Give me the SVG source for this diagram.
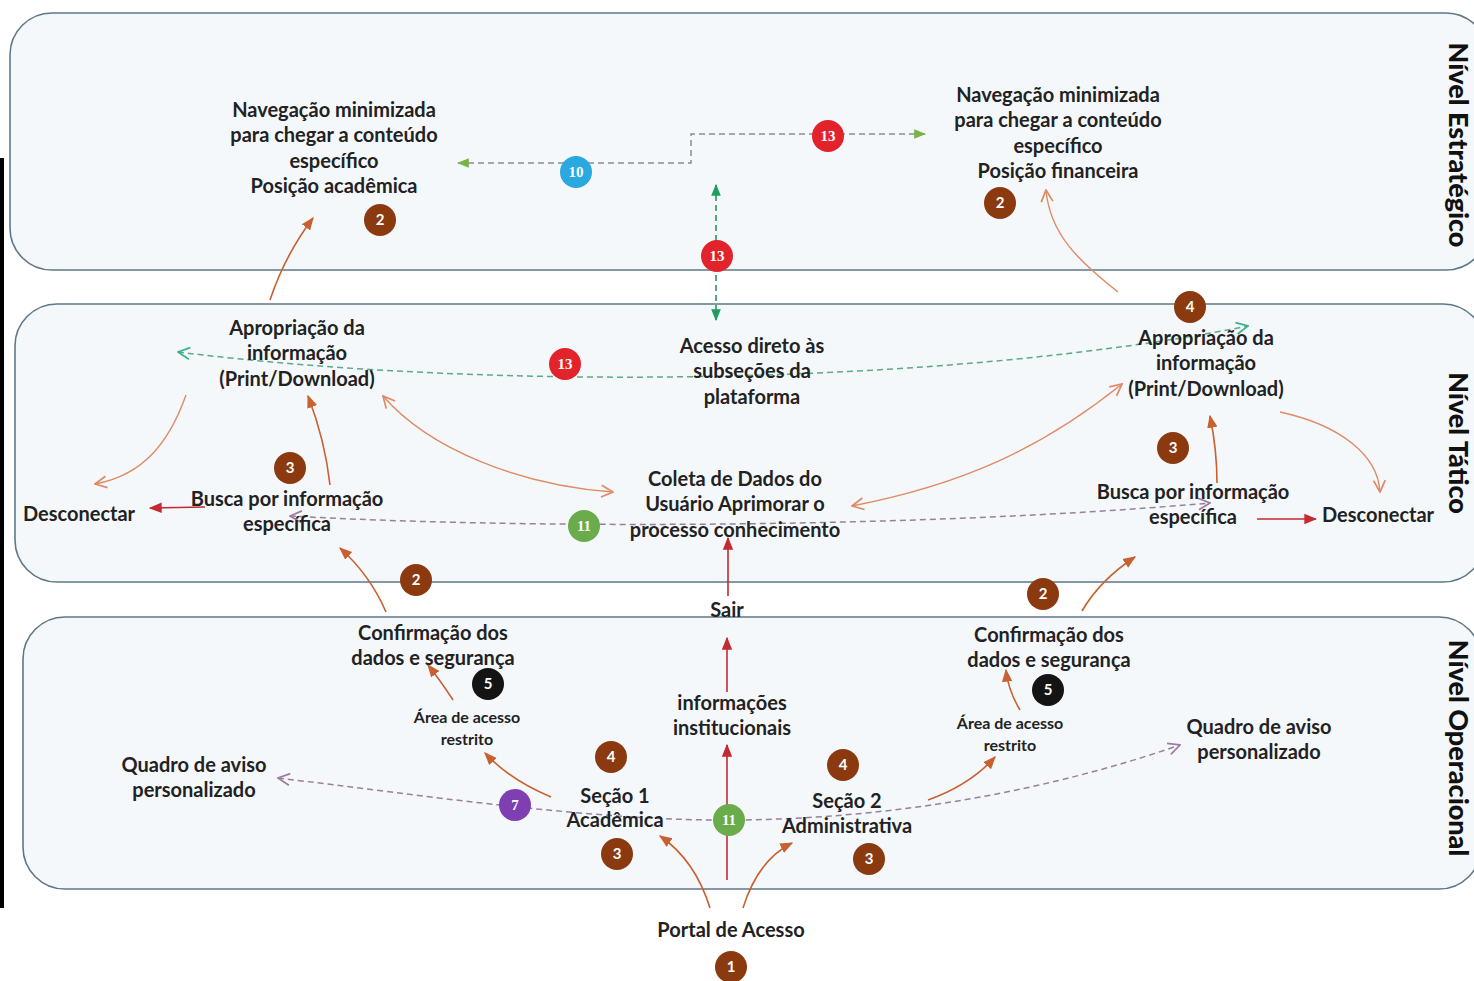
<svg xmlns="http://www.w3.org/2000/svg" width="1474" height="981" viewBox="0 0 1474 981">
  <style>
    .panel { fill: #f5f8fb; stroke: #5f7888; stroke-width: 1.6; }
    .t { font-family: Lato, "Liberation Sans", sans-serif; font-weight: 700; font-size: 20px; fill: #222; text-anchor: middle; }
    .ts { font-size: 16px; }
    .side { font-family: Lato, "Liberation Sans", sans-serif; font-weight: 900; font-size: 27px; fill: #111; text-anchor: middle; }
    .b circle { stroke: none; }
    .bn { font-family: Lato, "Liberation Sans", sans-serif; font-weight: 700; font-size: 15px; fill: #fff; text-anchor: middle; }
    .bs { font-family: "Liberation Serif", serif; font-weight: 700; font-size: 15px; fill: #fff; text-anchor: middle; }
    .brown { fill: #8b3a10; }
    .black { fill: #141414; }
    .red { fill: #e3232b; }
    .blue { fill: #2aa8df; }
    .green { fill: #6aac4c; }
    .purple { fill: #7d3fb2; }
    .solid { fill: none; stroke: #c8602f; stroke-width: 1.6; marker-end: url(#mFill); }
    .thin { fill: none; stroke: #e08a66; stroke-width: 1.4; }
    .redl { fill: none; stroke: #c42a32; stroke-width: 1.6; marker-end: url(#mRed); }
    .grayd { fill: none; stroke: #8c8c8c; stroke-width: 1.5; stroke-dasharray: 6 4; }
    .vgreen { fill: none; stroke: #1e8f55; stroke-width: 1.5; stroke-dasharray: 6 4; }
    .teal { fill: none; stroke: #5aaa86; stroke-width: 1.5; stroke-dasharray: 6 4; }
    .mauve { fill: none; stroke: #9a7f9a; stroke-width: 1.5; stroke-dasharray: 6 4; }
  </style>
  <defs>
    <marker id="mFill" viewBox="0 0 10 10" refX="9" refY="5" markerWidth="13" markerHeight="13" markerUnits="userSpaceOnUse" orient="auto-start-reverse">
      <path d="M0,1 L10,5 L0,9 z" fill="#c8602f"/>
    </marker>
    <marker id="mRed" viewBox="0 0 10 10" refX="9" refY="5" markerWidth="13" markerHeight="13" markerUnits="userSpaceOnUse" orient="auto-start-reverse">
      <path d="M0,1 L10,5 L0,9 z" fill="#c42a32"/>
    </marker>
    <marker id="mOpen" viewBox="0 0 12 12" refX="11" refY="6" markerWidth="14" markerHeight="14" markerUnits="userSpaceOnUse" orient="auto-start-reverse">
      <path d="M1,1 L11,6 L1,11" fill="none" stroke="#e08a66" stroke-width="1.5"/>
    </marker>
    <marker id="mGreen" viewBox="0 0 10 10" refX="9" refY="5" markerWidth="12" markerHeight="12" markerUnits="userSpaceOnUse" orient="auto-start-reverse">
      <path d="M0,1 L10,5 L0,9 z" fill="#78b446"/>
    </marker>
    <marker id="mDGreen" viewBox="0 0 10 10" refX="9" refY="5" markerWidth="12" markerHeight="12" markerUnits="userSpaceOnUse" orient="auto-start-reverse">
      <path d="M0,1 L10,5 L0,9 z" fill="#1e9e5a"/>
    </marker>
    <marker id="mTeal" viewBox="0 0 12 12" refX="11" refY="6" markerWidth="14" markerHeight="14" markerUnits="userSpaceOnUse" orient="auto-start-reverse">
      <path d="M1,1 L11,6 L1,11" fill="none" stroke="#3fb08a" stroke-width="1.5"/>
    </marker>
    <marker id="mMauve" viewBox="0 0 12 12" refX="11" refY="6" markerWidth="14" markerHeight="14" markerUnits="userSpaceOnUse" orient="auto-start-reverse">
      <path d="M1,1 L11,6 L1,11" fill="none" stroke="#a07ca0" stroke-width="1.5"/>
    </marker>
  </defs>

  <rect width="1474" height="981" fill="#ffffff"/>
  <rect x="0" y="158" width="4" height="750" fill="#000"/>

  <!-- level bands -->
  <g id="band-estrategico">
    <rect class="panel" x="10" y="13" width="1478" height="257" rx="42"/>
    <text class="side" transform="translate(1449,145) rotate(90)">Nível Estratégico</text>
  </g>
  <g id="band-tatico">
    <rect class="panel" x="15" y="304" width="1470" height="278" rx="42"/>
    <text class="side" transform="translate(1449,443) rotate(90)">Nível Tático</text>
  </g>
  <g id="band-operacional">
    <rect class="panel" x="23" y="617" width="1458" height="272" rx="42"/>
    <text class="side" transform="translate(1449,748) rotate(90)">Nível Operacional</text>
  </g>

  <!-- connectors -->
  <g id="connectors">
    <path class="grayd" d="M458,163 L691,163 L691,134 L925,134" marker-start="url(#mGreen)" marker-end="url(#mGreen)"/>
    <path class="vgreen" d="M716,185 L716,320" marker-start="url(#mDGreen)" marker-end="url(#mDGreen)"/>
    <path class="solid" d="M270,300 Q285,255 313,218"/>
    <path class="thin" d="M1118,292 C1080,262 1050,235 1046,190" marker-end="url(#mOpen)"/>

    <path class="teal" d="M178,352 C500,392 950,385 1248,326" marker-start="url(#mTeal)" marker-end="url(#mTeal)"/>
    <path class="mauve" d="M290,516 C500,528 900,530 1210,503" marker-start="url(#mMauve)" marker-end="url(#mMauve)"/>
    <path class="thin" d="M186,395 C170,440 145,475 95,484" marker-end="url(#mOpen)"/>
    <path class="redl" d="M205,507 L150,508"/>
    <path class="solid" d="M330,485 Q325,440 308,396"/>
    <path class="thin" d="M383,396 C430,450 520,485 613,492" marker-start="url(#mOpen)" marker-end="url(#mOpen)"/>
    <path class="thin" d="M852,506 C960,485 1040,450 1122,384" marker-start="url(#mOpen)" marker-end="url(#mOpen)"/>
    <path class="solid" d="M1217,483 Q1217,450 1210,416"/>
    <path class="redl" d="M1257,519 L1316,519"/>
    <path class="thin" d="M1280,412 C1340,425 1378,455 1380,492" marker-end="url(#mOpen)"/>
    <path class="redl" d="M728,596 L728,538"/>
    <path class="solid" d="M386,612 Q370,575 340,548"/>
    <path class="solid" d="M1082,611 Q1100,580 1135,557"/>

    <path class="mauve" d="M278,778 C420,795 600,822 740,820 C900,818 1050,790 1180,745" marker-start="url(#mMauve)" marker-end="url(#mMauve)"/>
    <path class="solid" d="M453,700 Q440,680 428,665"/>
    <path class="solid" d="M551,797 Q510,780 485,753"/>
    <path class="redl" d="M727,880 L727,745"/>
    <path class="redl" d="M727,692 L727,638"/>
    <path class="solid" d="M710,908 Q695,860 660,836"/>
    <path class="solid" d="M743,908 Q758,860 792,843"/>
    <path class="solid" d="M928,800 Q970,785 995,757"/>
    <path class="solid" d="M1020,710 Q1008,690 1006,670"/>
  </g>

  <!-- strategic level -->
  <g id="nav-academica">
    <text class="t" x="334" y="117">Navegação minimizada</text>
    <text class="t" x="334" y="142">para chegar a conteúdo</text>
    <text class="t" x="334" y="168">específico</text>
    <text class="t" x="334" y="193">Posição acadêmica</text>
  </g>
  <g id="nav-financeira">
    <text class="t" x="1058" y="102">Navegação minimizada</text>
    <text class="t" x="1058" y="127">para chegar a conteúdo</text>
    <text class="t" x="1058" y="153">específico</text>
    <text class="t" x="1058" y="178">Posição financeira</text>
  </g>

  <!-- tactical level -->
  <g id="apropriacao-1">
    <text class="t" x="297" y="335">Apropriação da</text>
    <text class="t" x="297" y="360">informação</text>
    <text class="t" x="297" y="386">(Print/Download)</text>
  </g>
  <g id="acesso-direto">
    <text class="t" x="752" y="353">Acesso direto às</text>
    <text class="t" x="752" y="378">subseções da</text>
    <text class="t" x="752" y="404">plataforma</text>
  </g>
  <g id="coleta">
    <text class="t" x="735" y="486">Coleta de Dados do</text>
    <text class="t" x="735" y="511">Usuário Aprimorar o</text>
    <text class="t" x="735" y="537">processo conhecimento</text>
  </g>
  <g id="busca-1">
    <text class="t" x="287" y="506">Busca por informação</text>
    <text class="t" x="287" y="531">específica</text>
  </g>
  <g id="desconectar-1">
    <text class="t" x="79" y="521">Desconectar</text>
  </g>
  <g id="apropriacao-2">
    <text class="t" x="1206" y="345">Apropriação da</text>
    <text class="t" x="1206" y="370">informação</text>
    <text class="t" x="1206" y="396">(Print/Download)</text>
  </g>
  <g id="busca-2">
    <text class="t" x="1193" y="499">Busca por informação</text>
    <text class="t" x="1193" y="524">específica</text>
  </g>
  <g id="desconectar-2">
    <text class="t" x="1378" y="522">Desconectar</text>
  </g>
  <g id="sair">
    <text class="t" x="727" y="617">Sair</text>
  </g>

  <!-- operational level -->
  <g id="confirmacao-1">
    <text class="t" x="433" y="640">Confirmação dos</text>
    <text class="t" x="433" y="665">dados e segurança</text>
  </g>
  <g id="area-restrita-1">
    <text class="t ts" x="467" y="723">Área de acesso</text>
    <text class="t ts" x="467" y="745">restrito</text>
  </g>
  <g id="secao-1">
    <text class="t" x="615" y="803">Seção 1</text>
    <text class="t" x="615" y="827">Acadêmica</text>
  </g>
  <g id="informacoes">
    <text class="t" x="732" y="710">informações</text>
    <text class="t" x="732" y="735">institucionais</text>
  </g>
  <g id="secao-2">
    <text class="t" x="847" y="808">Seção 2</text>
    <text class="t" x="847" y="833">Administrativa</text>
  </g>
  <g id="area-restrita-2">
    <text class="t ts" x="1010" y="729">Área de acesso</text>
    <text class="t ts" x="1010" y="751">restrito</text>
  </g>
  <g id="confirmacao-2">
    <text class="t" x="1049" y="642">Confirmação dos</text>
    <text class="t" x="1049" y="667">dados e segurança</text>
  </g>
  <g id="quadro-1">
    <text class="t" x="194" y="772">Quadro de aviso</text>
    <text class="t" x="194" y="797">personalizado</text>
  </g>
  <g id="quadro-2">
    <text class="t" x="1259" y="734">Quadro de aviso</text>
    <text class="t" x="1259" y="759">personalizado</text>
  </g>
  <g id="portal">
    <text class="t" x="731" y="937">Portal de Acesso</text>
  </g>

  <!-- numbered badges -->
  <g id="badges">
    <g class="b"><circle class="brown" cx="380" cy="220" r="16"/><text class="bn" x="380" y="225">2</text></g>
    <g class="b"><circle class="brown" cx="1000" cy="203" r="16"/><text class="bn" x="1000" y="208">2</text></g>
    <g class="b"><circle class="brown" cx="1190" cy="307" r="16"/><text class="bn" x="1190" y="312">4</text></g>
    <g class="b"><circle class="brown" cx="290" cy="468" r="16"/><text class="bn" x="290" y="473">3</text></g>
    <g class="b"><circle class="brown" cx="1173" cy="448" r="16"/><text class="bn" x="1173" y="453">3</text></g>
    <g class="b"><circle class="brown" cx="416" cy="580" r="16"/><text class="bn" x="416" y="585">2</text></g>
    <g class="b"><circle class="brown" cx="1043" cy="594" r="16"/><text class="bn" x="1043" y="599">2</text></g>
    <g class="b"><circle class="brown" cx="611" cy="757" r="16"/><text class="bn" x="611" y="762">4</text></g>
    <g class="b"><circle class="brown" cx="617" cy="854" r="16"/><text class="bn" x="617" y="859">3</text></g>
    <g class="b"><circle class="brown" cx="843" cy="765" r="16"/><text class="bn" x="843" y="770">4</text></g>
    <g class="b"><circle class="brown" cx="869" cy="859" r="16"/><text class="bn" x="869" y="864">3</text></g>
    <g class="b"><circle class="brown" cx="731" cy="967" r="16"/><text class="bn" x="731" y="972">1</text></g>
    <g class="b"><circle class="black" cx="488" cy="684" r="16"/><text class="bn" x="488" y="689">5</text></g>
    <g class="b"><circle class="black" cx="1048" cy="690" r="16"/><text class="bn" x="1048" y="695">5</text></g>
    <g class="b"><circle class="red" cx="828" cy="136" r="16"/><text class="bs" x="828" y="141">13</text></g>
    <g class="b"><circle class="red" cx="717" cy="256" r="16"/><text class="bs" x="717" y="261">13</text></g>
    <g class="b"><circle class="red" cx="565" cy="364" r="16"/><text class="bs" x="565" y="369">13</text></g>
    <g class="b"><circle class="blue" cx="576" cy="172" r="16"/><text class="bs" x="576" y="177">10</text></g>
    <g class="b"><circle class="green" cx="584" cy="526" r="16"/><text class="bs" x="584" y="531">11</text></g>
    <g class="b"><circle class="green" cx="729" cy="820" r="16"/><text class="bs" x="729" y="825">11</text></g>
    <g class="b"><circle class="purple" cx="515" cy="805" r="16"/><text class="bs" x="515" y="810">7</text></g>
  </g>
</svg>
